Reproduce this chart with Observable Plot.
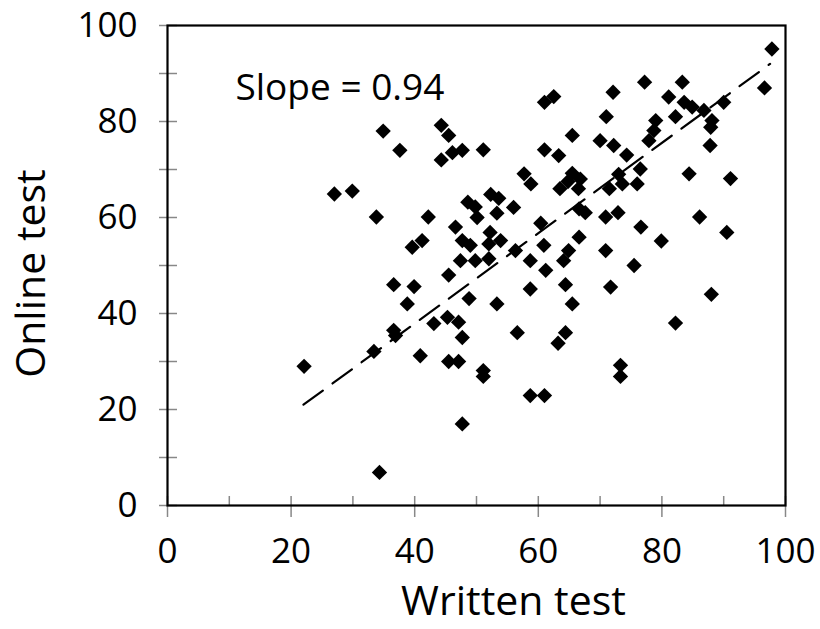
<!DOCTYPE html>
<html>
<head>
<meta charset="utf-8">
<script src="https://cdn.jsdelivr.net/npm/d3@7"></script>
<script src="https://cdn.jsdelivr.net/npm/@observablehq/plot@0.6"></script>
<style>
  html, body { margin: 0; padding: 0; background: #fff; }
  #chart { width: 820px; height: 629px; }
</style>
</head>
<body>
<div id="chart"></div>
<script>
// Scores (written test, online test)
const writtenScores = [
  22.1, 27.0, 29.9, 33.4, 33.8, 34.3, 34.9, 37.6, 36.6, 36.6,
  36.9, 38.8, 39.9, 39.6, 41.2, 40.9, 42.2, 43.1, 44.3, 45.5,
  44.3, 46.1, 47.7, 45.5, 45.3, 47.1, 47.7, 45.5, 47.1, 47.7,
  46.6, 47.7, 49.0, 47.4, 49.8, 48.8, 48.6, 49.8, 50.1, 51.1,
  51.1, 51.1, 52.3, 53.6, 53.3, 52.2, 52.0, 53.9, 52.0, 53.3,
  56.0, 56.3, 56.6, 57.7, 58.8, 58.7, 58.7, 58.7, 60.4, 60.9,
  61.2, 61.0, 61.0, 62.5, 61.0, 63.3, 63.5, 64.8, 65.5, 66.8,
  66.5, 65.5, 64.9, 64.1, 64.4, 65.5, 64.4, 63.2, 66.6, 67.6,
  66.6, 70.0, 71.0, 72.1, 72.2, 74.3, 73.0, 73.6, 71.5, 70.9,
  72.9, 70.9, 71.7, 73.3, 73.3, 75.5, 76.6, 76.5, 76.0, 77.9,
  78.7, 79.0, 77.2, 79.9, 81.1, 82.2, 82.2, 83.3, 83.6, 84.9,
  84.4, 86.1, 86.8, 87.8, 88.1, 87.9, 88.0, 90.0, 90.5, 91.1,
  96.6, 97.8
];
const onlineScores = [
  29.0, 64.9, 65.5, 32.1, 60.1, 6.9, 78.0, 74.0, 46.0, 36.5,
  35.4, 42.0, 45.6, 53.8, 55.2, 31.2, 60.1, 37.9, 79.2, 77.1,
  72.0, 73.5, 74.0, 48.0, 39.2, 38.2, 35.0, 30.0, 30.0, 17.0,
  58.0, 55.2, 54.2, 51.0, 51.0, 43.1, 63.2, 62.2, 60.0, 74.1,
  28.1, 26.9, 64.8, 64.0, 60.9, 56.9, 54.5, 55.2, 51.4, 42.0,
  62.1, 53.1, 36.0, 69.1, 67.0, 51.0, 45.1, 22.9, 58.8, 54.2,
  49.0, 22.9, 84.0, 85.2, 74.1, 72.9, 66.0, 67.5, 69.2, 68.0,
  66.0, 77.1, 53.1, 51.0, 46.0, 42.0, 36.0, 33.8, 61.8, 61.0,
  55.9, 76.0, 81.0, 86.1, 75.0, 73.0, 69.0, 67.0, 66.0, 60.1,
  61.0, 53.1, 45.5, 29.2, 26.9, 50.0, 58.0, 70.1, 67.0, 76.0,
  78.1, 80.2, 88.2, 55.1, 85.1, 81.0, 38.0, 88.2, 84.0, 83.0,
  69.1, 60.1, 82.3, 75.0, 80.2, 78.8, 44.0, 84.0, 56.9, 68.1,
  87.0, 95.1
];

// Fitted line endpoints
const trendWritten = [22, 97.5];
const trendOnline = [21, 92];

const majorTicks = [0, 20, 40, 60, 80, 100];
const minorTicks = [10, 30, 50, 70, 90];
const allTicks = [0, 10, 20, 30, 40, 50, 60, 70, 80, 90, 100];

const slopeLabel = "Slope = 0.94";
const xTitle = "Written test";
const yTitle = "Online test";

const points = writtenScores.map((w, i) => ({written: w, online: onlineScores[i]}));
const trend = trendWritten.map((w, i) => ({written: w, online: trendOnline[i]}));

const W = 820, H = 629;
const mL = 167, mR = 35, mT = 25, mB = 124;
const innerW = W - mL - mR, innerH = H - mT - mB;

const chart = Plot.plot({
  width: W,
  height: H,
  marginLeft: mL,
  marginRight: mR,
  marginTop: mT,
  marginBottom: mB,
  style: {fontFamily: "'Open Sans', sans-serif", fontSize: "35px", color: "#000", background: "#fff", overflow: "visible"},
  x: {domain: [0, 100], ticks: majorTicks, tickSize: 0, tickPadding: 33, label: null},
  y: {domain: [0, 100], ticks: majorTicks, tickSize: 0, tickPadding: 30, label: null},
  marks: [
    Plot.tickX(majorTicks, {x: d => d, insetTop: innerH - 9, insetBottom: -12, stroke: "#888", strokeWidth: 1.5}),
    Plot.tickX(minorTicks, {x: d => d, insetTop: innerH - 9, insetBottom: 0, stroke: "#888", strokeWidth: 1.5}),
    Plot.tickY(allTicks, {y: d => d, insetRight: innerW - 10, insetLeft: -8, stroke: "#888", strokeWidth: 1.5}),
    Plot.frame({stroke: "#000", strokeWidth: 2.2}),
    Plot.line(trend, {x: "written", y: "online", stroke: "#000", strokeWidth: 2.2, strokeDasharray: "24,12"}),
    Plot.dot(points, {x: "written", y: "online", symbol: "diamond2", r: 6.9, fill: "#000", stroke: "none"}),
    Plot.text([slopeLabel], {x: 11, y: 87, text: d => d, textAnchor: "start", lineAnchor: "middle", fontSize: 37, fill: "#000"}),
    Plot.text([xTitle], {frameAnchor: "bottom", text: d => d, textAnchor: "middle", lineAnchor: "middle", dx: 37, dy: 96, fontSize: 41, fill: "#000"}),
    Plot.text([yTitle], {frameAnchor: "left", text: d => d, rotate: -90, textAnchor: "middle", lineAnchor: "middle", dx: -136, dy: 8, fontSize: 41, fill: "#000"})
  ]
});
document.getElementById("chart").appendChild(chart);
</script>
</body>
</html>
